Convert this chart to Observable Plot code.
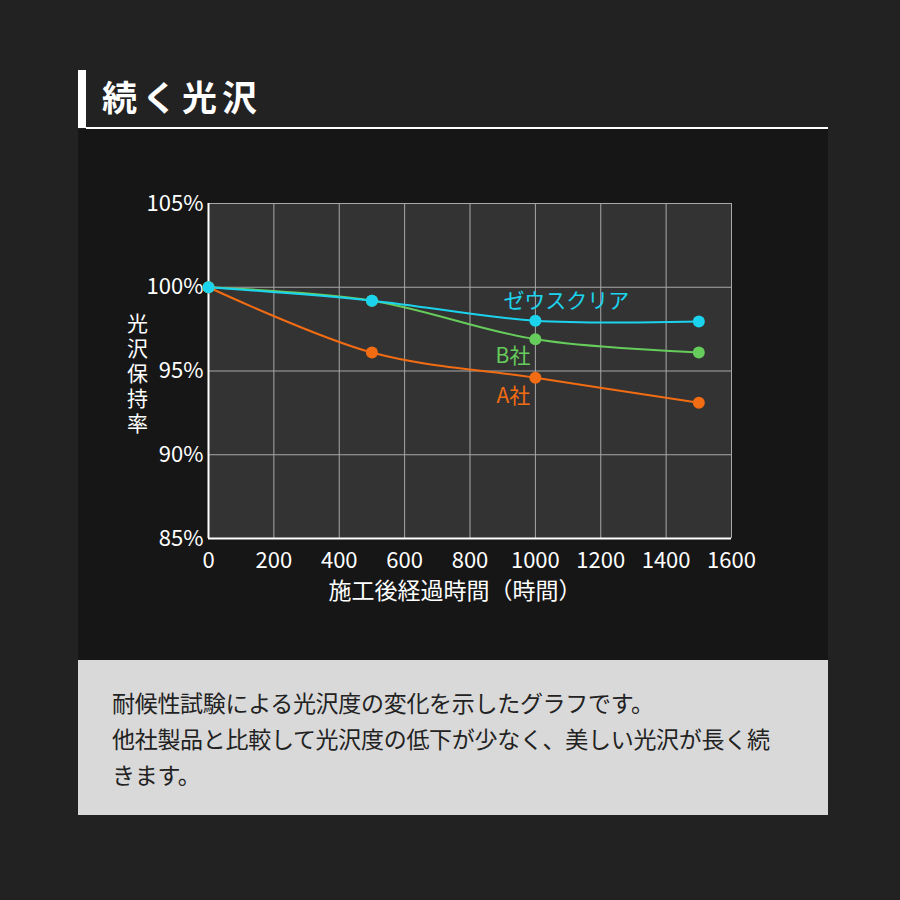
<!DOCTYPE html>
<html><head><meta charset="utf-8">
<script src="https://cdn.jsdelivr.net/npm/d3@7"></script>
<script src="https://cdn.jsdelivr.net/npm/@observablehq/plot@0.6"></script>
<style>
html,body{margin:0;padding:0;}
body{width:900px;height:900px;background:#222222;position:relative;overflow:hidden;font-family:"Noto Sans CJK JP","Noto Sans",sans-serif;}
#bar{position:absolute;left:78px;top:70px;width:8px;height:58px;background:#fff;}
#rule{position:absolute;left:86px;top:127px;width:742px;height:2px;background:#fff;}
#title{position:absolute;left:102px;top:71px;font-size:35px;font-weight:700;color:#fff;letter-spacing:5px;line-height:50px;}
#panel{position:absolute;left:78px;top:129px;width:750px;height:531px;background:#161616;}
#chart{position:absolute;left:100px;top:170px;}
#note{position:absolute;left:78px;top:660px;width:750px;height:155px;background:#d9d9d9;color:#222;font-size:23px;line-height:36px;box-sizing:border-box;padding:24px 0 0 34px;letter-spacing:-0.3px;white-space:nowrap;}
</style></head>
<body>
<div id="panel"></div>
<div id="bar"></div><div id="rule"></div>
<div id="title">続く光沢</div>
<div id="chart"></div>
<div id="note">耐候性試験による光沢度の変化を示したグラフです。<br>他社製品と比較して光沢度の低下が少なく、美しい光沢が長く続<br>きます。</div>
<script>
const hours = [0, 500, 1000, 1500];
const zeus = [100, 99.2, 98.0, 97.95];
const bsha = [100, 99.2, 96.9, 96.1];
const asha = [100, 96.1, 94.6, 93.1];
const seriesNames = ["ゼウスクリア", "B社", "A社"];
const seriesColors = ["#1cd3ee", "#66cc5c", "#f26c13"];
const xTicks = [0, 200, 400, 600, 800, 1000, 1200, 1400, 1600];
const yTicks = [85, 90, 95, 100, 105];
const xLabel = "施工後経過時間（時間）";
const yLabel = "光沢保持率";

const valuesBySeries = [zeus, bsha, asha];
const data = [];
// draw A社 first, ゼウスクリア last (on top)
[2, 1, 0].forEach(i => hours.forEach((h, j) => data.push({series: seriesNames[i], x: h, y: valuesBySeries[i][j]})));
const color = {domain: seriesNames, range: seriesColors};
const labelAt = seriesNames.map((s, i) => ({series: s, x: hours[2], y: valuesBySeries[i][2]}));

const plot = Plot.plot({
  width: 700, height: 470,
  marginLeft: 108, marginRight: 69, marginTop: 33, marginBottom: 102,
  style: {background: "transparent", color: "#fff", fontSize: "22px", fontFamily: "'Noto Sans CJK JP', sans-serif"},
  x: {domain: [0, 1600], label: null},
  y: {domain: [85, 105], label: null},
  color,
  marks: [
    Plot.frame({fill: "#333333", stroke: null}),
    Plot.gridX(xTicks, {stroke: "#a8a8a8", strokeOpacity: 1, strokeWidth: 1}),
    Plot.gridY(yTicks, {stroke: "#a8a8a8", strokeOpacity: 1, strokeWidth: 1}),
    Plot.ruleX([0], {stroke: "#fff", strokeWidth: 2}),
    Plot.ruleY([85], {stroke: "#fff", strokeWidth: 2}),
    Plot.axisX(xTicks, {tickSize: 0, tickPadding: 14, fill: "#fff", fontSize: 22, tickFormat: d => String(d), label: null}),
    Plot.axisY(yTicks, {tickSize: 0, tickPadding: 5, fill: "#fff", fontSize: 22, tickFormat: d => d + "%", label: null}),
    Plot.line(data, {x: "x", y: "y", z: "series", stroke: "series", strokeWidth: 2, curve: "catmull-rom"}),
    Plot.dot(data, {x: "x", y: "y", fill: "series", r: 6, stroke: null}),
    Plot.text(labelAt.filter(d => d.series === seriesNames[0]), {x: "x", y: "y", text: "series", fill: "series", textAnchor: "start", dx: -32, dy: -19, fontSize: 21}),
    Plot.text(labelAt.filter(d => d.series === seriesNames[1]), {x: "x", y: "y", text: "series", fill: "series", textAnchor: "end", dx: -5, dy: 17, fontSize: 21}),
    Plot.text(labelAt.filter(d => d.series === seriesNames[2]), {x: "x", y: "y", text: "series", fill: "series", textAnchor: "end", dx: -5, dy: 19, fontSize: 21}),
    Plot.text([xLabel], {frameAnchor: "bottom", dx: -15, dy: 60, fill: "#fff", fontSize: 23}),
    Plot.text([yLabel.split("").join("\n")], {frameAnchor: "left", textAnchor: "middle", dx: -71, dy: 2, lineHeight: 1.2, fill: "#fff", fontSize: 21})
  ]
});
document.getElementById("chart").appendChild(plot);
</script>
</body></html>
